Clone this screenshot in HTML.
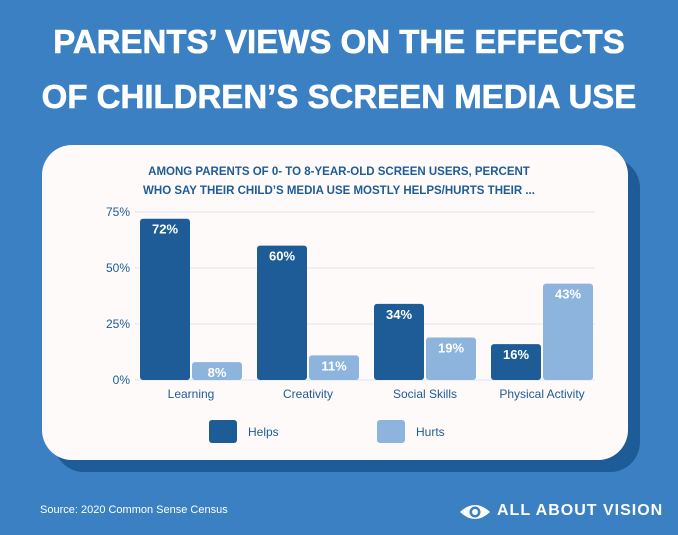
<!DOCTYPE html>
<html><head><meta charset="utf-8"><style>
body{margin:0;width:678px;height:535px;background:#3a80c2;font-family:"Liberation Sans",sans-serif;overflow:hidden;position:relative}
.title{position:absolute;left:0;width:678px;top:14px;text-align:center;color:#fff;font-weight:900;font-size:33px;line-height:55px;letter-spacing:0px;-webkit-text-stroke:0.6px #fff}
.shadow{position:absolute;left:54px;top:158px;width:586px;height:314px;background:#1d5c96;border-radius:30px}
.card{position:absolute;left:42px;top:145px;width:586px;height:315px;background:#fefafa;border-radius:30px}
.sub{position:absolute;left:0;width:678px;top:163px;text-align:center;color:#1d5c96;font-weight:bold;font-size:11.5px;line-height:19px}
.src{position:absolute;left:40px;top:504px;color:#fff;font-size:11px}
.logo{position:absolute;left:497px;top:502px;color:#fff;font-weight:bold;font-size:16px;letter-spacing:1px;white-space:nowrap}
</style></head><body>
<div class="title">PARENTS’ VIEWS ON THE EFFECTS<br>OF CHILDREN’S SCREEN MEDIA USE</div>
<div class="shadow"></div>
<div class="card"></div>
<svg id="chart" width="678" height="535" style="position:absolute;left:0;top:0"></svg>
<div class="sub">AMONG PARENTS OF 0- TO 8-YEAR-OLD SCREEN USERS, PERCENT<br>WHO SAY THEIR CHILD’S MEDIA USE MOSTLY HELPS/HURTS THEIR ...</div>
<div class="src">Source: 2020 Common Sense Census</div>
<svg style="position:absolute;left:458px;top:500px" width="34" height="24"><path d="M2 12 Q17 -2 32 12 Q17 26 2 12Z" fill="#fff"/><circle cx="17" cy="12" r="5.5" fill="#3a80c2"/><circle cx="17" cy="12" r="3" fill="#fff"/></svg>
<div class="logo">ALL ABOUT VISION</div>
<script>
const categories=["Learning","Creativity","Social Skills","Physical Activity"];
const helps=[72,60,34,16];
const hurts=[8,11,19,43];
const ticks=[0,25,50,75];
const NS="http://www.w3.org/2000/svg";
const svg=document.getElementById('chart');
const y0=380,pxPer=168/75,x0=140,groupW=117,barW=50;
const y=v=>y0-v*pxPer;
function mk(t,a){const e=document.createElementNS(NS,t);for(const k in a)e.setAttribute(k,a[k]);svg.appendChild(e);return e;}
ticks.forEach(t=>{
 const l=mk('line',{x1:135,x2:595,y1:y(t),y2:y(t),stroke:'#eef0f6','stroke-width':2});
 
 
 const tx=mk('text',{x:130,y:y(t)+4,'text-anchor':'end','font-size':12,fill:'#1d5c96','font-family':'Liberation Sans'});
 tx.textContent=t+'%';
 
 
});
categories.forEach((c,i)=>{
 const gx=x0+i*groupW;
 [[helps[i],'#1d5c96',gx],[hurts[i],'#8db4dd',gx+52]].forEach(([v,col,bx],j)=>{
  const r=mk('rect',{x:bx,y:y(v),width:barW,height:v*pxPer,rx:3,fill:col});
  
  
  const t=mk('text',{x:bx+barW/2,y:y(v)+15,'text-anchor':'middle','font-size':13,'font-weight':'bold',fill:'#fff','font-family':'Liberation Sans'});
  t.textContent=v+'%';
  
  
 });
 const ct=mk('text',{x:gx+51,y:398,'text-anchor':'middle','font-size':12,fill:'#1d5c96','font-family':'Liberation Sans'});
 ct.textContent=c;
 
 
});
[['Helps','#1d5c96',209],['Hurts','#8db4dd',377]].forEach(([n,col,lx])=>{
 const r=mk('rect',{x:lx,y:420,width:28,height:23,rx:3,fill:col});
 
 
 const t=mk('text',{x:lx+39,y:436,'font-size':12,fill:'#1d5c96','font-family':'Liberation Sans'});
 t.textContent=n;
 
 
});
</script>
</body></html>
